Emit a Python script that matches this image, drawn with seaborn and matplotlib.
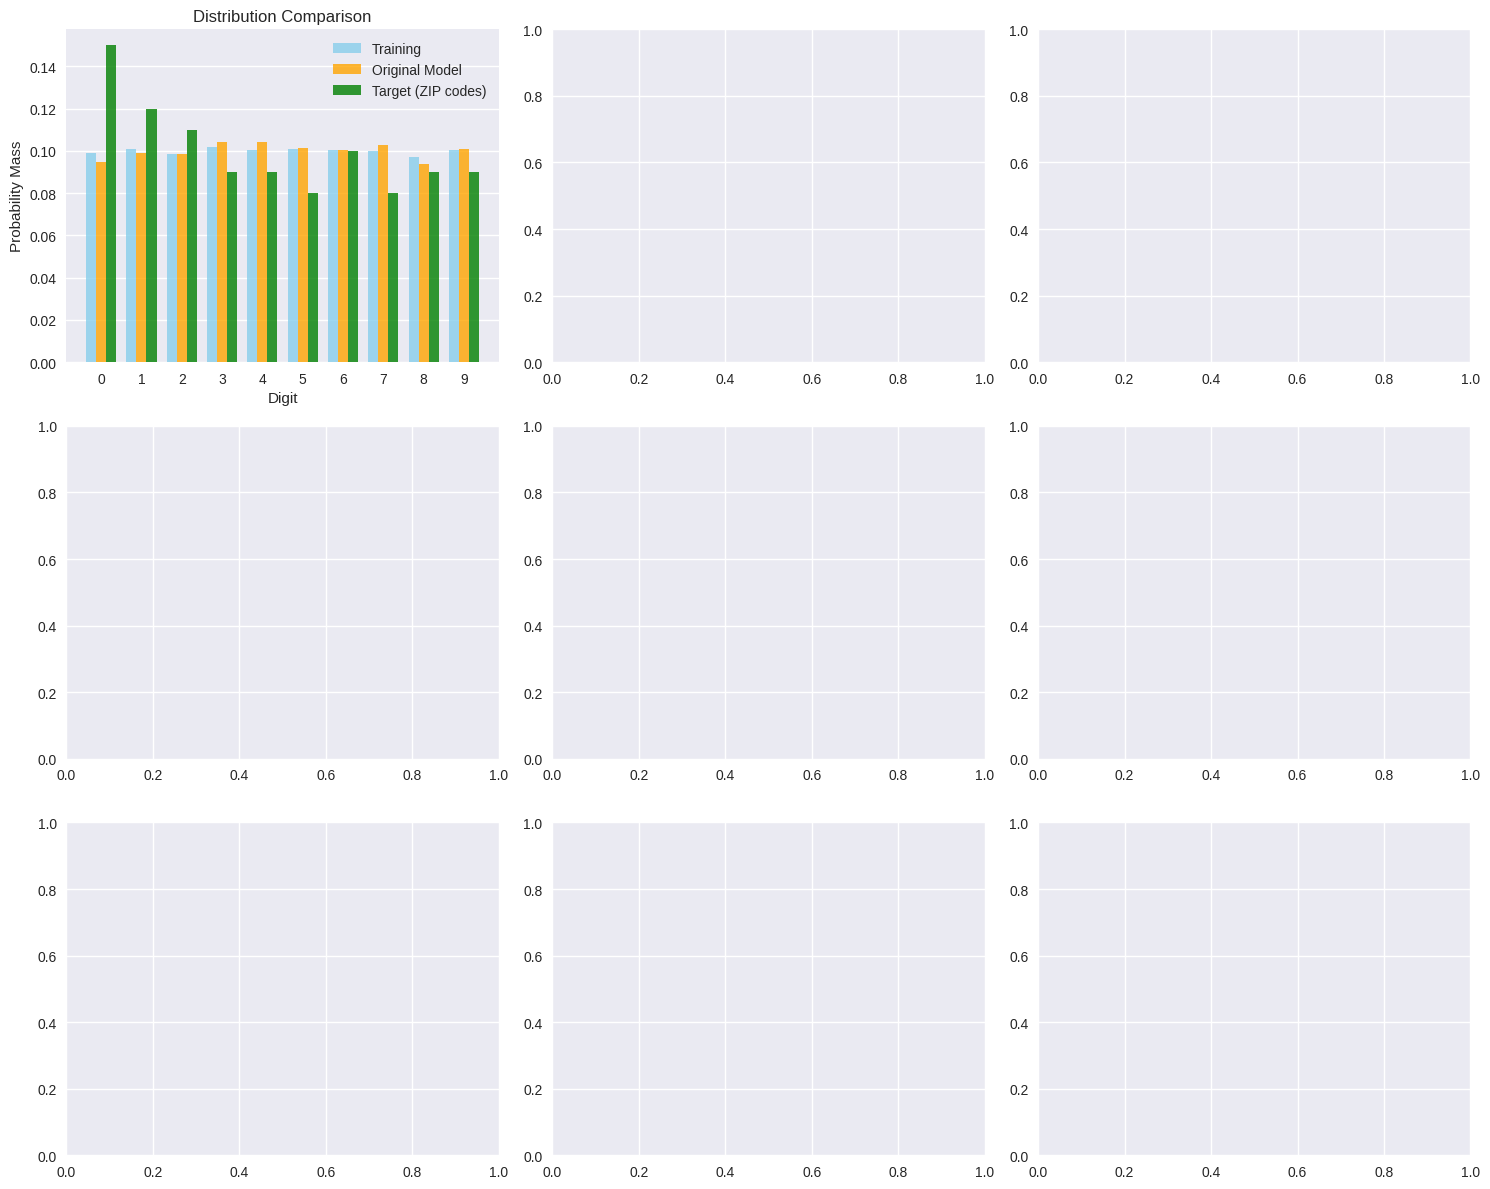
import numpy as np
import pandas as pd
import seaborn as sns
import matplotlib.pyplot as plt

plt.style.use('seaborn-v0_8')

digits = list(range(10))
training = [0.0992, 0.1011, 0.0983, 0.1020, 0.1006, 0.1011, 0.1006, 0.0997, 0.0969, 0.1002]
original = [0.0946, 0.0988, 0.0983, 0.1043, 0.1043, 0.1015, 0.1006, 0.1029, 0.0937, 0.1011]
target = [0.15, 0.12, 0.11, 0.09, 0.09, 0.08, 0.10, 0.08, 0.09, 0.09]
series = ['Training', 'Original Model', 'Target (ZIP codes)']
colors = ['skyblue', 'orange', 'green']

df = pd.DataFrame({
    'Digit': digits * 3,
    'Mass': training + original + target,
    'Series': np.repeat(series, 10),
})

fig, axes = plt.subplots(3, 3, figsize=(15, 12), dpi=100)
ax = axes[0, 0]
sns.barplot(data=df, x='Digit', y='Mass', hue='Series', palette=colors,
            alpha=0.8, saturation=1, ax=ax, width=0.75)
ax.set_xlim(-0.86, 9.86)
ax.set_xlabel('Digit')
ax.set_ylabel('Probability Mass')
ax.set_title('Distribution Comparison')
ax.legend(title=None)

plt.tight_layout()
plt.savefig('out.png', bbox_inches='tight')
